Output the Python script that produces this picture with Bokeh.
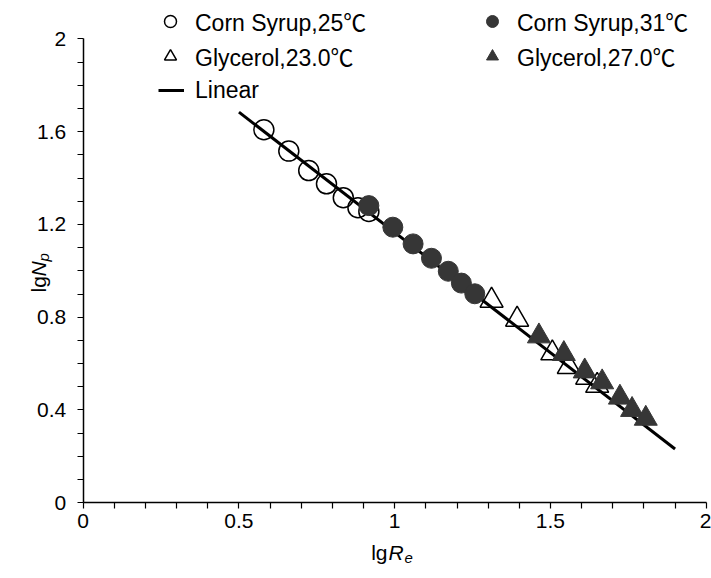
from math import pi
from bokeh.plotting import figure
from bokeh.models import Legend, LegendItem, Label, FixedTicker, NumeralTickFormatter, Range1d
from bokeh.embed import file_html
from bokeh.resources import INLINE

# ---- data ----
cs25_x = [0.580, 0.660, 0.724, 0.781, 0.835, 0.882, 0.917]
cs25_y = [1.608, 1.516, 1.432, 1.375, 1.315, 1.272, 1.256]
cs31_x = [0.917, 0.994, 1.059, 1.118, 1.172, 1.214, 1.257]
cs31_y = [1.281, 1.188, 1.116, 1.054, 0.998, 0.947, 0.901]
g23_x = [1.311, 1.393, 1.506, 1.559, 1.618, 1.650]
g23_y = [0.872, 0.790, 0.645, 0.586, 0.540, 0.505]
g27_x = [1.463, 1.543, 1.610, 1.666, 1.723, 1.762, 1.806]
g27_y = [0.718, 0.642, 0.567, 0.520, 0.454, 0.401, 0.363]
lin_x = [0.50, 1.90]
lin_y = [1.684, 0.232]

series_names = ["Corn Syrup,25℃", "Corn Syrup,31℃", "Glycerol,23.0℃", "Glycerol,27.0℃", "Linear"]

x_major_ticks = [0, 0.5, 1, 1.5, 2]
x_minor_ticks = [0.1, 0.2, 0.3, 0.4, 0.6, 0.7, 0.8, 0.9, 1.1, 1.2, 1.3, 1.4, 1.6, 1.7, 1.8, 1.9]
y_major_ticks = [0, 0.4, 0.8, 1.2, 1.6, 2]
y_minor_ticks = [0.1, 0.2, 0.3, 0.5, 0.6, 0.7, 0.9, 1.0, 1.1, 1.3, 1.4, 1.5, 1.7, 1.8, 1.9]

# visible window (frame spans the whole canvas; axes are pinned at 0)
X_VIEW = (-0.2655, 2.0170)
Y_VIEW = (-0.3263, 2.1651)

FONT = "'Liberation Sans', 'Noto Sans CJK SC'"
FS = "21px"
LFS = "23px"
DARK = "#363636"

p = figure(width=711, height=578, x_range=Range1d(*X_VIEW), y_range=Range1d(*Y_VIEW),
           output_backend="svg", toolbar_location=None, title=None,
           min_border=0, min_border_left=0, min_border_right=0,
           min_border_top=0, min_border_bottom=0)
p.xgrid.visible = False
p.ygrid.visible = False
p.outline_line_color = None
p.background_fill_color = "white"
p.border_fill_color = "white"

p.xaxis.ticker = FixedTicker(ticks=x_major_ticks, minor_ticks=x_minor_ticks)
p.yaxis.ticker = FixedTicker(ticks=y_major_ticks, minor_ticks=y_minor_ticks)
p.xaxis.formatter = NumeralTickFormatter(format="0.[0]")
p.yaxis.formatter = NumeralTickFormatter(format="0.[0]")
p.xaxis.fixed_location = 0
p.yaxis.fixed_location = 0
p.xaxis.bounds = (0, 2)
p.yaxis.bounds = (0, 2)
for ax in (p.xaxis, p.yaxis):
    ax.axis_line_color = "black"
    ax.axis_line_width = 1.5
    ax.major_tick_line_color = "black"
    ax.minor_tick_line_color = "black"
    ax.major_tick_line_width = 1.2
    ax.minor_tick_line_width = 1.2
    ax.major_tick_in = 0
    ax.major_tick_out = 6
    ax.minor_tick_in = 0
    ax.minor_tick_out = 6
    ax.major_label_text_font = FONT
    ax.major_label_text_font_size = FS
    ax.major_label_text_color = "black"
p.xaxis.major_label_standoff = 5
p.yaxis.major_label_standoff = 11

r_lin = p.line(lin_x, lin_y, line_width=3, line_color="black")
r_cs25 = p.scatter(cs25_x, cs25_y, marker="circle", size=20, fill_color=None,
                   line_color="black", line_width=1.5)
r_cs31 = p.scatter(cs31_x, cs31_y, marker="circle", size=20, fill_color=DARK,
                   line_color=DARK, line_width=1)
r_g23 = p.scatter(g23_x, g23_y, marker="triangle", size=23, fill_color=None,
                  line_color="black", line_width=1.5)
r_g27 = p.scatter(g27_x, g27_y, marker="triangle", size=23, fill_color=DARK,
                  line_color=DARK, line_width=1)


def add_legend(label, renderer, vx, vy, gw, gh, standoff):
    lg = Legend(items=[LegendItem(label=label, renderers=[renderer])],
                location=(vx, vy), glyph_width=gw, glyph_height=gh,
                label_standoff=standoff, padding=0, margin=0, spacing=0,
                border_line_alpha=0, background_fill_alpha=0,
                label_text_font=FONT, label_text_font_size=LFS,
                label_text_color="black", label_height=gh)
    p.add_layout(lg, "center")


# legend rows (screen offsets from canvas bottom-left)
add_legend(series_names[0], r_cs25, 155, 540, 30, 30, 10)
add_legend(series_names[2], r_g23, 155, 505, 30, 30, 10)
add_legend(series_names[4], r_lin, 158, 473, 26, 30, 11)
add_legend(series_names[1], r_cs31, 477, 540, 30, 30, 10)
add_legend(series_names[3], r_g27, 477, 505, 30, 30, 10)

# x axis title: lgRe
p.add_layout(Label(x=387, y=26, x_units="screen", y_units="screen", text="lg",
                   text_align="right", text_baseline="alphabetic",
                   text_font=FONT, text_font_size=FS, text_color="black"))
p.add_layout(Label(x=388, y=26, x_units="screen", y_units="screen", text="R",
                   text_align="left", text_baseline="alphabetic", text_font_style="italic",
                   text_font=FONT, text_font_size=FS, text_color="black"))
p.add_layout(Label(x=404, y=21, x_units="screen", y_units="screen", text="e",
                   text_align="left", text_baseline="alphabetic", text_font_style="italic",
                   text_font=FONT, text_font_size="15px", text_color="black"))

# y axis title: lgNp (rotated)
p.add_layout(Label(x=38, y=286, x_units="screen", y_units="screen", text="lg", angle=pi / 2,
                   text_align="left", text_baseline="alphabetic",
                   text_font=FONT, text_font_size=FS, text_color="black"))
p.add_layout(Label(x=38, y=302, x_units="screen", y_units="screen", text="N", angle=pi / 2,
                   text_align="left", text_baseline="alphabetic", text_font_style="italic",
                   text_font=FONT, text_font_size=FS, text_color="black"))
p.add_layout(Label(x=43, y=317, x_units="screen", y_units="screen", text="p", angle=pi / 2,
                   text_align="left", text_baseline="alphabetic", text_font_style="italic",
                   text_font=FONT, text_font_size="15px", text_color="black"))

open("out.html", "w").write(file_html(p, INLINE))
